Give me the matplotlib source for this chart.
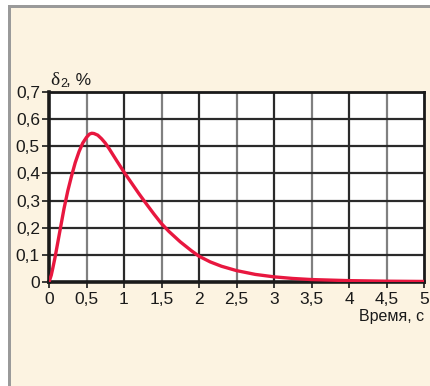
import matplotlib
matplotlib.use("Agg")
import matplotlib.pyplot as plt
from matplotlib.patches import Rectangle

t = [0, 0.03, 0.05, 0.08, 0.1, 0.15, 0.2, 0.25, 0.3, 0.35, 0.4, 0.45, 0.5, 0.54, 0.57, 0.6,
     0.65, 0.7, 0.75, 0.8, 0.85, 0.9, 1.0, 1.1, 1.2, 1.3, 1.4, 1.5, 1.6, 1.75, 1.9, 2.0,
     2.15, 2.3, 2.5, 2.75, 3.0, 3.25, 3.5, 4.0, 4.5, 5.0]
delta2 = [0, 0.025, 0.05, 0.09, 0.12, 0.195, 0.27, 0.335, 0.39, 0.44, 0.48, 0.512, 0.533, 0.545, 0.548, 0.547,
          0.541, 0.528, 0.512, 0.492, 0.47, 0.448, 0.405, 0.365, 0.325, 0.287, 0.25, 0.215, 0.186, 0.148, 0.115, 0.095,
          0.074, 0.058, 0.042, 0.028, 0.019, 0.013, 0.009, 0.005, 0.003, 0.002]
xticks = [0, 0.5, 1, 1.5, 2, 2.5, 3, 3.5, 4, 4.5, 5]
xticklabels = ["0", "0,5", "1", "1,5", "2", "2,5", "3", "3,5", "4", "4,5", "5"]
yticks = [0, 0.1, 0.2, 0.3, 0.4, 0.5, 0.6, 0.7]
yticklabels = ["0", "0,1", "0,2", "0,3", "0,4", "0,5", "0,6", "0,7"]

FONT = ["Liberation Sans", "DejaVu Sans"]
plt.rcParams['font.family'] = FONT

bg = "#fcf3e1"
grey = "#9a9a9a"
fig = plt.figure(figsize=(4.3, 3.86), dpi=100)
fig.patch.set_facecolor("white")
W, H = 430, 386
fig.add_artist(Rectangle((11 / W, 0), 1, (H - 8) / H, transform=fig.transFigure,
                         facecolor=bg, edgecolor="none", zorder=0))
fig.add_artist(Rectangle((8 / W, (H - 8) / H), 1, 3 / H, transform=fig.transFigure,
                         facecolor=grey, edgecolor="none", zorder=0))
fig.add_artist(Rectangle((8 / W, -0.1), 3 / W, (H - 5) / H + 0.1, transform=fig.transFigure,
                         facecolor=grey, edgecolor="none", zorder=0))

ax = fig.add_axes([49 / W, (H - 282) / H, 375 / W, 190 / H])
ax.set_facecolor("white")
ax.set_xlim(0, 5)
ax.set_ylim(0, 0.7)

for x in xticks[1:-1]:
    col = "#2a2a2a" if float(x).is_integer() else "#808080"
    ax.axvline(x, color=col, lw=1.6, zorder=1)
for y in yticks[1:-1]:
    ax.axhline(y, color="#2a2a2a", lw=1.6, zorder=1)

ax.plot(t, delta2, color="#e8173f", lw=2.4, zorder=3, solid_capstyle="round",
        solid_joinstyle="round")

for s in ax.spines.values():
    s.set_color("#1a1a1a")
    s.set_linewidth(2.0)
ax.spines["left"].set_linewidth(2.6)
ax.spines["bottom"].set_linewidth(2.6)

ax.set_xticks(xticks)
ax.set_xticklabels(xticklabels)
ax.set_yticks(yticks)
ax.set_yticklabels(yticklabels)
ax.tick_params(axis="both", labelsize=12.5, colors="#1a1a1a", width=1.2)
ax.tick_params(axis="x", length=4, pad=3)
ax.tick_params(axis="y", length=5, pad=1.5)

fig.text(50 / W, (H - 85) / H, "δ", fontsize=14, color="#1a1a1a",
         ha="left", va="baseline", family=["Liberation Serif", "DejaVu Serif"])
fig.text(60.5 / W, (H - 87) / H, "2", fontsize=9, color="#1a1a1a",
         ha="left", va="baseline", family=FONT)
fig.text(66 / W, (H - 85) / H, ", %", fontsize=12.5, color="#1a1a1a",
         ha="left", va="baseline", family=FONT)
fig.text(424 / W, (H - 316) / H, "Время, с", fontsize=11.5, color="#1a1a1a",
         ha="right", va="center", family=FONT)

fig.savefig("out.png", dpi=100, facecolor=fig.get_facecolor())
